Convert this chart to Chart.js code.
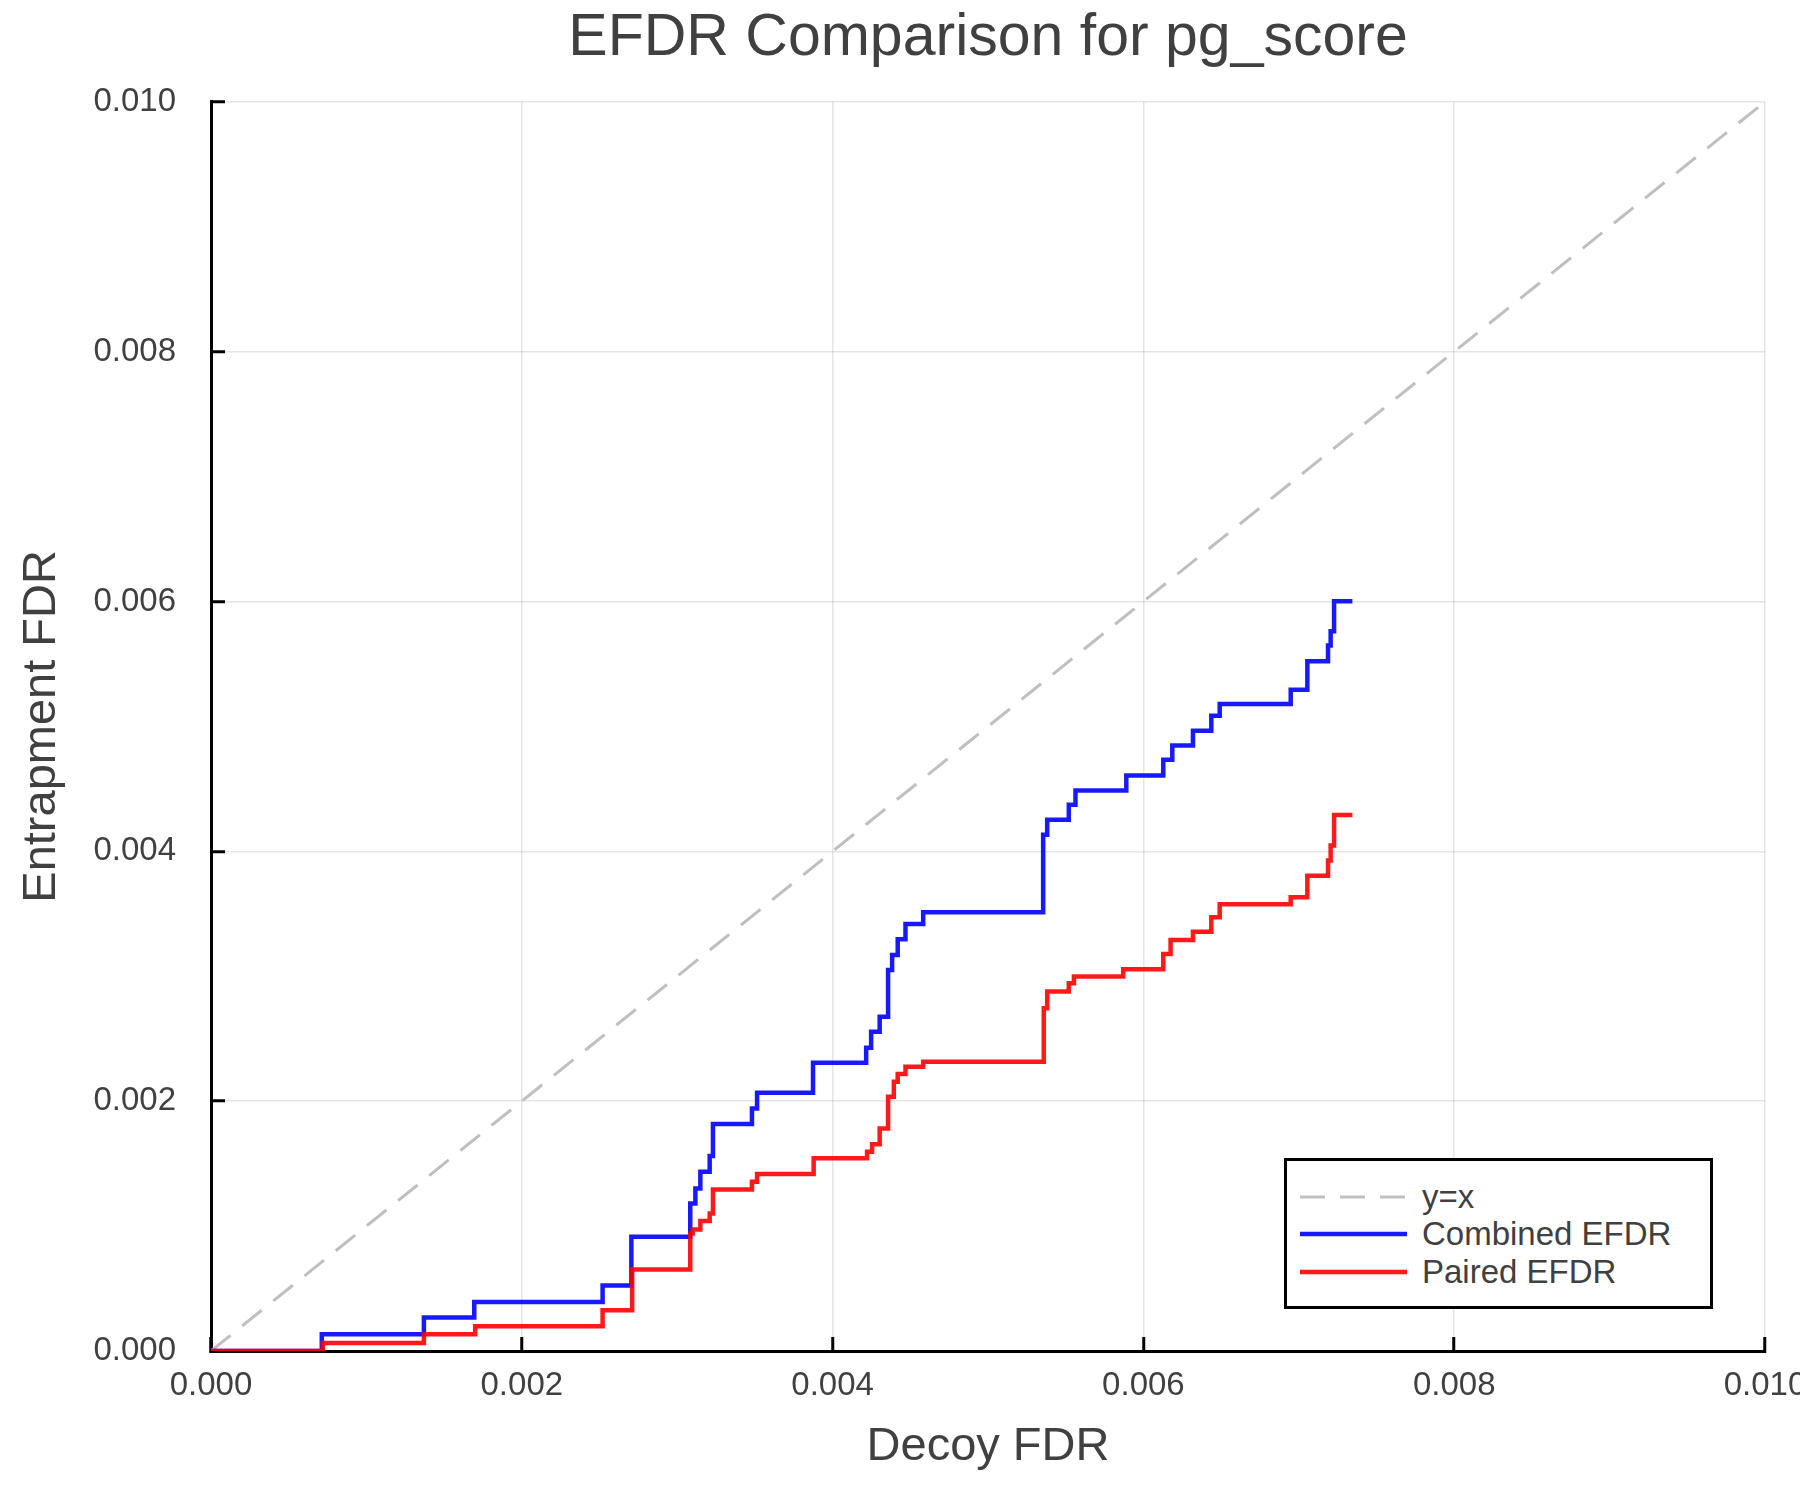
<!DOCTYPE html>
<html>
<head>
<meta charset="utf-8">
<title>EFDR Comparison for pg_score</title>
<script src="https://cdn.jsdelivr.net/npm/chart.js@4.4.0/dist/chart.umd.min.js"></script>
<style>
  html, body { margin: 0; padding: 0; background: #fff; }
  #wrap { position: relative; width: 1800px; height: 1500px; }
  #legend {
    position: absolute; box-sizing: border-box;
    border: 3px solid #000; background: #fff;
    padding: 17px 0 0 13px;
    font-family: 'Liberation Sans', Arial, sans-serif; font-size: 33px; color: #404040;
  }
  #legend .row { display: flex; align-items: center; height: 37.5px; }
  #legend svg { margin-right: 15px; }
</style>
</head>
<body>
<div id="wrap">
  <canvas id="c" width="1800" height="1500"></canvas>
  <div id="legend"></div>
</div>
<script>
// ---- data ----
const tickVals = [0, 0.002, 0.004, 0.006, 0.008, 0.010];

const diagX = [0, 0.01];
const diagY = [0, 0.01];

// step points: x where the jump happens, new level after the jump
const decoyCombined = [0, 0.000713, 0.00137, 0.001694, 0.00252, 0.002705, 0.003084, 0.003117, 0.003149, 0.003209,
  0.00323, 0.003481, 0.003514, 0.003874, 0.004216, 0.004248, 0.004303, 0.004357, 0.004383, 0.004419,
  0.004469, 0.004583, 0.005355, 0.005381, 0.00552, 0.005563, 0.00589, 0.006128, 0.006186, 0.006319,
  0.006437, 0.006491, 0.006948, 0.007055, 0.007188, 0.007205, 0.007227, 0.007345];
const efdrCombined = [0, 0.000134, 0.000268, 0.000393, 0.000524, 0.000914, 0.00118, 0.0013, 0.001434, 0.00156,
  0.001817, 0.001942, 0.002067, 0.002308, 0.002428, 0.002556, 0.002676, 0.00305, 0.00317, 0.003297,
  0.003419, 0.003513, 0.004132, 0.004252, 0.004373, 0.004487, 0.004607, 0.004733, 0.004848, 0.004966,
  0.005086, 0.00518, 0.005294, 0.005521, 0.005647, 0.005761, 0.006002, 0.006002];

const decoyPaired = [0, 0.000719, 0.00137, 0.0017, 0.00252, 0.00271, 0.003084, 0.0031, 0.003149, 0.003209,
  0.00323, 0.003481, 0.003514, 0.003878, 0.004222, 0.004254, 0.004303, 0.004357, 0.004394, 0.004419,
  0.004469, 0.004583, 0.005359, 0.005381, 0.00552, 0.005553, 0.00587, 0.006128, 0.006175, 0.006319,
  0.006437, 0.006491, 0.006948, 0.007055, 0.007188, 0.007205, 0.007227, 0.007345];
const efdrPaired = [0, 0.000064, 0.000134, 0.000198, 0.000326, 0.000652, 0.00094, 0.000973, 0.00104, 0.0011,
  0.001293, 0.001354, 0.001416, 0.001542, 0.001595, 0.001656, 0.001782, 0.002035, 0.002156, 0.002217,
  0.002276, 0.002316, 0.002744, 0.002877, 0.002944, 0.002997, 0.003056, 0.003179, 0.003291, 0.003357,
  0.003473, 0.003577, 0.003633, 0.003804, 0.003926, 0.004046, 0.00429, 0.00429];

// ---- styling ----
const FONT = "'Liberation Sans', Arial, sans-serif";
const TEXT = '#404040';
const GRID = 'rgba(0,0,0,0.1)';

const pts = (xs, ys) => xs.map((x, i) => ({ x, y: ys[i] }));

const axis = (title, titlePad) => ({
  type: 'linear', min: 0, max: 0.01,
  afterBuildTicks: s => { s.ticks = tickVals.map(v => ({ value: v })); },
  ticks: { color: TEXT, font: { family: FONT, size: 33 }, callback: v => v.toFixed(3), maxRotation: 0, autoSkip: false },
  grid: { color: GRID, lineWidth: 1.5, tickColor: '#000', tickWidth: 3, tickLength: -14 },
  border: { color: '#000', width: 3 },
  title: { display: true, text: title, color: TEXT, font: { family: FONT, size: 47 }, padding: titlePad }
});

const xAxis = axis('Decoy FDR', { top: 0, bottom: 25 });
xAxis.ticks.padding = 29;
xAxis.afterFit = s => { s.height = 149; s.paddingLeft = 0; s.paddingRight = 0; };

const yAxis = axis('Entrapment FDR', { top: 14, bottom: 0 });
yAxis.ticks.padding = 49;
yAxis.afterFit = s => { s.width = 211; s.paddingTop = 0; s.paddingBottom = 0; };

const chart = new Chart(document.getElementById('c'), {
  type: 'line',
  data: {
    datasets: [
      { label: 'y=x', data: pts(diagX, diagY), borderColor: '#bfbfbf', borderWidth: 3, borderDash: [25, 15], order: 3 },
      { label: 'Combined EFDR', data: pts(decoyCombined, efdrCombined), borderColor: 'rgba(0,0,255,0.9)', borderWidth: 4.5, stepped: 'before', order: 2 },
      { label: 'Paired EFDR', data: pts(decoyPaired, efdrPaired), borderColor: 'rgba(255,0,0,0.9)', borderWidth: 4.5, stepped: 'before', order: 1 }
    ]
  },
  options: {
    responsive: false, animation: false, devicePixelRatio: 1,
    layout: { padding: { left: 0, right: 35, top: 0, bottom: 0 } },
    elements: { point: { radius: 0 }, line: { tension: 0, fill: false } },
    plugins: {
      legend: { display: false },
      tooltip: { enabled: false },
      title: {
        display: true, text: 'EFDR Comparison for pg_score', fullSize: false,
        color: TEXT, font: { family: FONT, size: 59, weight: 'normal' },
        padding: { top: 3, bottom: 28 }
      }
    },
    scales: { x: xAxis, y: yAxis }
  }
});

// legend box in the lower right of the plot area
(function buildLegend() {
  const box = document.getElementById('legend');
  const a = chart.chartArea;
  box.style.width = '429px';
  box.style.height = '151px';
  box.style.left = (a.right - 52 - 429) + 'px';
  box.style.top = (a.bottom - 42 - 151) + 'px';
  chart.data.datasets.forEach(d => {
    const row = document.createElement('div');
    row.className = 'row';
    const dash = d.borderDash ? d.borderDash.join(' ') : 'none';
    row.innerHTML = '<svg width="107" height="10"><line x1="0" y1="5" x2="107" y2="5" stroke="' + d.borderColor +
      '" stroke-width="' + d.borderWidth + '" stroke-dasharray="' + dash + '"/></svg><span>' + d.label + '</span>';
    box.appendChild(row);
  });
})();
</script>
</body>
</html>
